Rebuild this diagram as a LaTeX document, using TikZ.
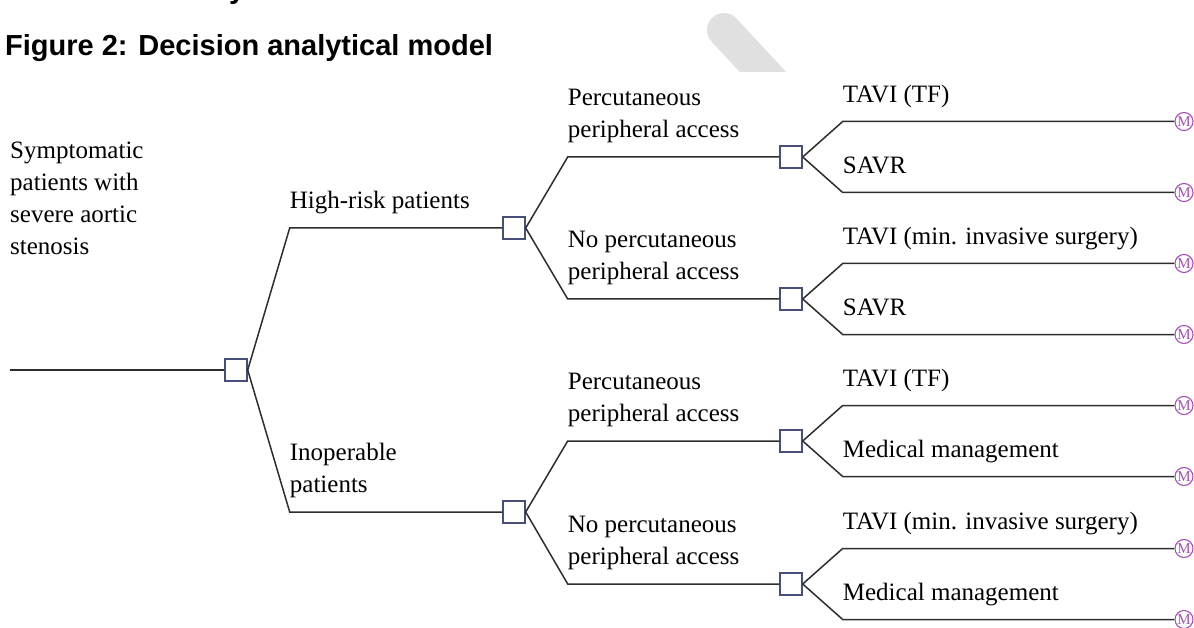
\documentclass[tikz,border=0pt]{standalone}
\usepackage{fontspec}
\setmainfont{Liberation Serif}
\newfontfamily\titlefont{Liberation Sans}
\usetikzlibrary{positioning}

\definecolor{branchgray}{RGB}{45,45,45}
\definecolor{boxblue}{RGB}{72,78,122}
\definecolor{markpurple}{RGB}{165,82,182}
\definecolor{markgray}{RGB}{224,224,224}

\begin{document}
\begin{tikzpicture}
        [
            x=1pt, y=-1pt,
            decision/.style={
                draw=boxblue,
                fill=white,
                line width=1.4pt,
                minimum size=22pt,
                inner sep=0pt
            },
            terminal/.style={
                circle,
                draw=markpurple,
                fill=white,
                text=markpurple,
                line width=1.1pt,
                minimum size=18pt,
                inner sep=0pt,
                font=\fontsize{15}{15}\selectfont
            },
            branch/.style={
                draw=branchgray,
                line width=1.5pt
            },
            choicetext/.style={
                anchor=south west,
                inner sep=0pt,
                text depth=0pt,
                align=left,
                font=\fontsize{25}{32}\selectfont
            },
            headline/.style={
                anchor=base west,
                inner sep=0pt,
                font=\titlefont\bfseries\fontsize{29}{29}\selectfont
            }
         ]
        \useasboundingbox (0,0) rectangle (1194,628);

        % faint mark behind the tree
        \begin{scope}
            \clip (600,0) rectangle (900,72);
            \draw[markgray, line width=34pt, line cap=round] (724,30) -- (800,112);
        \end{scope}

        \node[headline] at (229,-1) {y};
        \node[headline] (title) at (5,56) {Figure 2: Decision analytical model};

        % decision nodes
        \coordinate (start) at (10,370);
        \node[decision] (root) at (236,370) {};
        \node[decision] (high) at (514,228) {};
        \node[decision] (inop) at (514,512) {};
        \node[decision] (highperc) at (791,157) {};
        \node[decision] (highnoperc) at (791,299) {};
        \node[decision] (inopperc) at (791,441) {};
        \node[decision] (inopnoperc) at (791,584) {};

        % terminal nodes
        \foreach \n/\y in {1/121.5, 2/192.5, 3/263.5, 4/334.5, 5/405.5, 6/476.5, 7/548.5, 8/619.5}
            \node[terminal] (m\n) at (1184,\y) {M};

        % branches
        \draw[branch] (start) -- (root.west);
        \foreach \src/\dst/\dx in {root/high/42, root/inop/42,
                high/highperc/42, high/highnoperc/42, inop/inopperc/42, inop/inopnoperc/42,
                highperc/m1/40, highperc/m2/40, highnoperc/m3/40, highnoperc/m4/40,
                inopperc/m5/40, inopperc/m6/40, inopnoperc/m7/40, inopnoperc/m8/40}
            \draw[branch] (\src.east) -- ([xshift=\dx pt]\src.east |- \dst.west) coordinate (e-\dst) -- (\dst.west);

        % labels
        \node[choicetext] at ([yshift=115pt]start) {Symptomatic\\patients with\\severe aortic\\stenosis};
        \node[choicetext] at ([yshift=19pt]e-high) {High-risk patients};
        \node[choicetext] at ([yshift=19pt]e-inop) {Inoperable\\patients};
        \node[choicetext] at ([yshift=19pt]e-highperc) {Percutaneous\\peripheral access};
        \node[choicetext] at ([yshift=19pt]e-highnoperc) {No percutaneous\\peripheral access};
        \node[choicetext] at ([yshift=19pt]e-inopperc) {Percutaneous\\peripheral access};
        \node[choicetext] at ([yshift=19pt]e-inopnoperc) {No percutaneous\\peripheral access};
        \foreach \n/\txt in {1/TAVI (TF), 2/SAVR, 3/TAVI (min. invasive surgery), 4/SAVR,
                5/TAVI (TF), 6/Medical management, 7/TAVI (min. invasive surgery), 8/Medical management}
            \node[choicetext] at ([yshift=19pt]e-m\n) {\txt};
\end{tikzpicture}
\end{document}
